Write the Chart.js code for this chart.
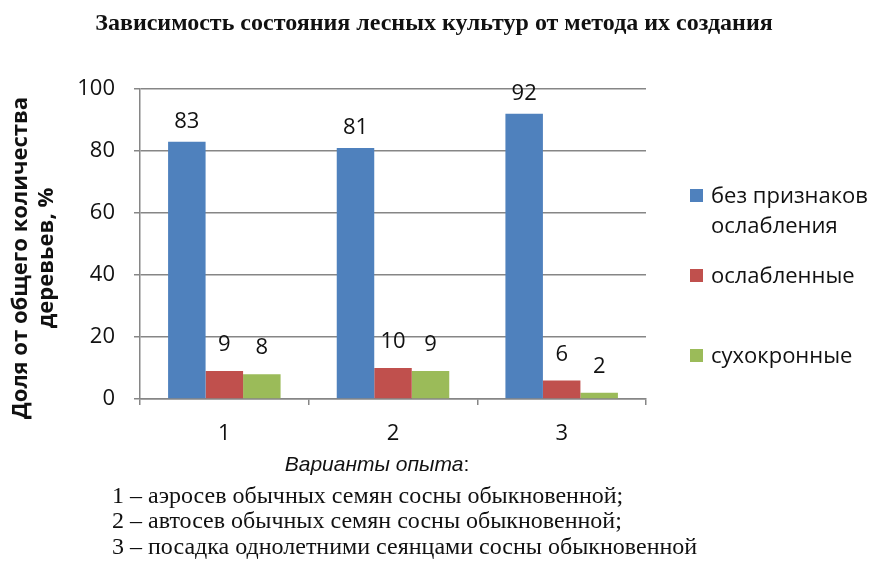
<!DOCTYPE html>
<html><head><meta charset="utf-8">
<script src="https://cdn.jsdelivr.net/npm/chart.js@4.4.0/dist/chart.umd.min.js"></script>
<style>html,body{margin:0;padding:0;background:#fff;} #wrap{width:878px;height:563px;position:relative;}</style>
</head><body><div id="wrap"><canvas id="c" width="878" height="563"></canvas></div>
<script>
const titleText = 'Зависимость состояния лесных культур от метода их создания';
const categories = ['1', '2', '3'];
const seriesNames = ['без признаков ослабления', 'ослабленные', 'сухокронные'];
const healthy = [83, 81, 92];
const weakened = [9, 10, 6];
const dryCrown = [8, 9, 2];
const yTicks = [0, 20, 40, 60, 80, 100];
const yAxisTitle = ['Доля от общего количества', 'деревьев, %'];
const xAxisTitle = 'Варианты опыта';
const legendLines = [['без признаков', 'ослабления'], ['ослабленные'], ['сухокронные']];
const notes = [
  '1 – аэросев обычных семян сосны обыкновенной;',
  '2 – автосев обычных семян сосны обыкновенной;',
  '3 – посадка однолетними сеянцами сосны обыкновенной'
];
const colors = ['#4F81BD', '#C0504D', '#9BBB59'];
const labelOffsets = [20, 26, 26];

const SANS = '"Open Sans", "Noto Sans", sans-serif';
const ARIAL = '"Liberation Sans", Arial, sans-serif';
const SERIF = '"Liberation Serif", "DejaVu Serif", serif';
const TXT = '#111';

const labelsPlugin = {
  id: 'barLabels',
  afterDatasetsDraw(chart) {
    const ctx = chart.ctx;
    ctx.save();
    ctx.font = '22px ' + SANS;
    ctx.fillStyle = TXT;
    ctx.textAlign = 'center';
    ctx.textBaseline = 'middle';
    chart.data.datasets.forEach((ds, i) => {
      const meta = chart.getDatasetMeta(i);
      meta.data.forEach((bar, j) => {
        ctx.fillText(String(ds.data[j]), bar.x, bar.y - labelOffsets[i]);
      });
    });
    ctx.restore();
  }
};

const decorPlugin = {
  id: 'decor',
  afterDraw(chart) {
    const ctx = chart.ctx;
    ctx.save();
    ctx.fillStyle = TXT;
    // Title
    ctx.font = 'bold 24px ' + SERIF;
    ctx.textAlign = 'center';
    ctx.textBaseline = 'alphabetic';
    ctx.fillText(titleText, 434, 30);
    // Y axis title
    ctx.save();
    ctx.translate(0, 258);
    ctx.rotate(-Math.PI / 2);
    ctx.textBaseline = 'middle';
    ctx.font = 'bold 22px ' + SANS;
    ctx.fillText(yAxisTitle[0], 0, 21);
    ctx.fillText(yAxisTitle[1], 0, 47);
    ctx.restore();
    // X axis title
    ctx.textBaseline = 'alphabetic';
    ctx.font = 'italic 21px ' + ARIAL;
    const w1 = ctx.measureText(xAxisTitle).width;
    ctx.font = '21px ' + ARIAL;
    const w2 = ctx.measureText(':').width;
    const x0 = 377 - (w1 + w2) / 2;
    ctx.textAlign = 'left';
    ctx.font = 'italic 21px ' + ARIAL;
    ctx.fillText(xAxisTitle, x0, 471);
    ctx.font = '21px ' + ARIAL;
    ctx.fillText(':', x0 + w1, 471);
    // Legend
    const legBase = [[203, 233], [283], [363]];
    ctx.font = '22px ' + SANS;
    legendLines.forEach((lines, i) => {
      ctx.fillStyle = colors[i];
      ctx.fillRect(690, legBase[i][0] - 14, 13, 13);
      ctx.fillStyle = TXT;
      lines.forEach((t, k) => ctx.fillText(t, 711, legBase[i][k]));
    });
    // Notes
    ctx.font = '24px ' + SERIF;
    const noteBase = [503, 528, 554];
    notes.forEach((t, i) => ctx.fillText(t, 112, noteBase[i]));
    ctx.restore();
  }
};

new Chart(document.getElementById('c'), {
  type: 'bar',
  data: {
    labels: categories,
    datasets: [
      { label: seriesNames[0], data: healthy, backgroundColor: colors[0] },
      { label: seriesNames[1], data: weakened, backgroundColor: colors[1] },
      { label: seriesNames[2], data: dryCrown, backgroundColor: colors[2] }
    ]
  },
  options: {
    responsive: false,
    animation: false,
    events: [],
    layout: { padding: { top: 89, right: 232, left: 0, bottom: 0 } },
    datasets: { bar: { categoryPercentage: 0.667, barPercentage: 1.0 } },
    plugins: { legend: { display: false }, title: { display: false }, tooltip: { enabled: false } },
    scales: {
      x: {
        afterFit(s) { s.height = 164; },
        grid: { display: true, drawOnChartArea: false, drawTicks: true, tickLength: 6, color: '#868686', lineWidth: 1.5, offset: true },
        border: { color: '#868686', width: 1.5 },
        ticks: { color: TXT, font: { family: SANS, size: 22 }, padding: 16 }
      },
      y: {
        min: 0, max: 100,
        afterFit(s) { s.width = 140; },
        afterBuildTicks(s) { s.ticks = yTicks.map(v => ({ value: v })); },
        grid: { color: '#868686', lineWidth: 1.5, tickLength: 6 },
        border: { color: '#868686', width: 1.5 },
        ticks: { color: TXT, font: { family: SANS, size: 22 }, padding: 19 }
      }
    }
  },
  plugins: [labelsPlugin, decorPlugin]
});
</script></body></html>
